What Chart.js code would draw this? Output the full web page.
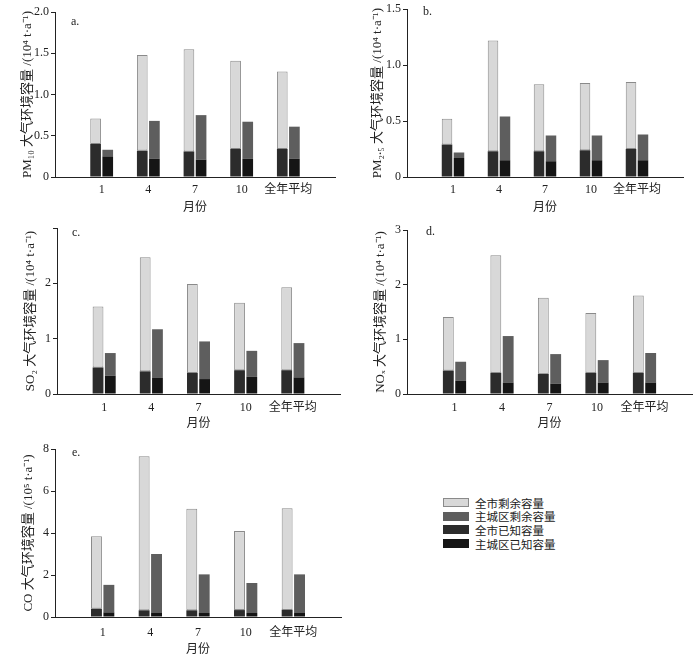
<!DOCTYPE html>
<html>
<head>
<meta charset="utf-8">
<script src="https://cdn.jsdelivr.net/npm/chart.js@4.4.0/dist/chart.umd.min.js"></script>
<style>
    body { margin: 0; background: #fff; }
    #wrap { position: relative; width: 700px; height: 657px; }
    .panel { position: absolute; }
    #legend { position: absolute; left: 443px; top: 496px; font: 11.5px 'Noto Sans CJK SC', sans-serif; color: #222; }
    #legend .row { display: flex; align-items: center; height: 13.6px; }
    #legend .box { width: 26px; height: 9px; margin-right: 6px; box-sizing: border-box; }
</style>
</head>
<body>
<div id="wrap">
    <div class="panel" id="pa"><canvas id="chartA"></canvas></div>
    <div class="panel" id="pb"><canvas id="chartB"></canvas></div>
    <div class="panel" id="pc"><canvas id="chartC"></canvas></div>
    <div class="panel" id="pd"><canvas id="chartD"></canvas></div>
    <div class="panel" id="pe"><canvas id="chartE"></canvas></div>
    <div id="legend"></div>
</div>
<script>
// Nhãn trục x (5 nhóm)
const months = ['1', '4', '7', '10', '全年平均'];

// Tên và màu các chuỗi
const seriesNames = ['全市剩余容量', '主城区剩余容量', '全市已知容量', '主城区已知容量'];
const seriesColors = ['#d8d8d8', '#5e5e5e', '#2c2c2c', '#151515'];

// a. PM10
const pm10CityKnown = [0.40, 0.32, 0.31, 0.34, 0.34];
const pm10CityRest  = [0.31, 1.16, 1.24, 1.07, 0.94];
const pm10MainKnown = [0.25, 0.22, 0.21, 0.22, 0.22];
const pm10MainRest  = [0.08, 0.46, 0.54, 0.45, 0.39];
const pm10Ticks = [0, 0.5, 1.0, 1.5, 2.0];
const pm10TickLabels = ['0', '0.5', '1.0', '1.5', '2.0'];

// b. PM2.5
const pm25CityKnown = [0.29, 0.23, 0.23, 0.24, 0.25];
const pm25CityRest  = [0.23, 0.99, 0.60, 0.60, 0.60];
const pm25MainKnown = [0.17, 0.15, 0.14, 0.15, 0.15];
const pm25MainRest  = [0.05, 0.39, 0.23, 0.22, 0.23];
const pm25Ticks = [0, 0.5, 1.0, 1.5];
const pm25TickLabels = ['0', '0.5', '1.0', '1.5'];

// c. SO2
const so2CityKnown = [0.48, 0.41, 0.38, 0.43, 0.43];
const so2CityRest  = [1.10, 2.06, 1.61, 1.22, 1.50];
const so2MainKnown = [0.33, 0.29, 0.27, 0.31, 0.30];
const so2MainRest  = [0.41, 0.88, 0.68, 0.47, 0.62];
const so2Ticks = [0, 1, 2, 3];
const so2TickLabels = ['0', '1', '2', ''];

// d. NOx
const noxCityKnown = [0.43, 0.39, 0.37, 0.39, 0.39];
const noxCityRest  = [0.98, 2.15, 1.39, 1.09, 1.41];
const noxMainKnown = [0.24, 0.21, 0.19, 0.21, 0.21];
const noxMainRest  = [0.35, 0.85, 0.54, 0.41, 0.54];
const noxTicks = [0, 1, 2, 3];
const noxTickLabels = ['0', '1', '2', '3'];

// e. CO
const coCityKnown = [0.40, 0.32, 0.32, 0.33, 0.35];
const coCityRest  = [3.45, 7.33, 4.83, 3.76, 4.83];
const coMainKnown = [0.22, 0.19, 0.19, 0.19, 0.19];
const coMainRest  = [1.31, 2.81, 1.84, 1.43, 1.84];
const coTicks = [0, 2, 4, 6, 8];
const coTickLabels = ['0', '2', '4', '6', '8'];

const serif = "'Liberation Serif', 'Noto Sans CJK SC', serif";

// Vẽ chữ a. b. c. trong vùng biểu đồ
const letterPlugin = {
    id: 'panelLetter',
    afterDraw(chart, args, opts) {
        const ctx = chart.ctx;
        const area = chart.chartArea;
        ctx.save();
        ctx.font = '12px ' + serif;
        ctx.fillStyle = '#222';
        ctx.textBaseline = 'middle';
        ctx.fillText(opts.text, area.left + opts.dx, area.top + opts.dy);
        ctx.restore();
    }
};

// Thêm ô trống ở hai đầu trục x
function pad(arr) {
    return [null].concat(arr, [null]);
}

function initPanel(canvasId, boxId, geo, letter, title, cityKnown, cityRest, mainKnown, mainRest, ticks, tickLabels) {
    const box = document.getElementById(boxId);
    box.style.left = geo.left + 'px';
    box.style.top = geo.top + 'px';
    box.style.width = geo.w + 'px';
    box.style.height = geo.h + 'px';

    const common = { categoryPercentage: 0.52, barPercentage: 0.88, borderWidth: 0 };

    new Chart(document.getElementById(canvasId), {
        type: 'bar',
        data: {
            labels: [''].concat(months, ['']),
            datasets: [
                { ...common, label: seriesNames[2], data: pad(cityKnown), stack: 'city', backgroundColor: seriesColors[2] },
                { ...common, label: seriesNames[0], data: pad(cityRest), stack: 'city', backgroundColor: seriesColors[0],
                  borderColor: '#8a8a8a', borderWidth: 1, borderSkipped: false },
                { ...common, label: seriesNames[3], data: pad(mainKnown), stack: 'main', backgroundColor: seriesColors[3] },
                { ...common, label: seriesNames[1], data: pad(mainRest), stack: 'main', backgroundColor: seriesColors[1] }
            ]
        },
        options: {
            responsive: true,
            maintainAspectRatio: false,
            animation: false,
            layout: { padding: { top: geo.padTop, right: geo.padRight, left: 0, bottom: 0 } },
            plugins: {
                legend: { display: false },
                tooltip: { enabled: false },
                panelLetter: { text: letter, dx: geo.letterDx, dy: geo.letterDy }
            },
            scales: {
                x: {
                    stacked: true,
                    offset: false,
                    grid: { display: false, drawTicks: false },
                    border: { display: true, color: '#222', width: 1 },
                    ticks: { autoSkip: false, maxRotation: 0, padding: geo.tickPad, color: '#222', font: { family: serif, size: 12 } },
                    title: { display: true, text: '月份', color: '#222', padding: { top: 0, bottom: geo.titlePad },
                             font: { family: "'Noto Sans CJK SC', sans-serif", size: 12 } },
                    afterFit: s => { s.height = geo.xHeight; }
                },
                y: {
                    stacked: true,
                    min: ticks[0],
                    max: ticks[ticks.length - 1],
                    grid: { display: true, drawOnChartArea: false, drawTicks: true, tickLength: 4, color: '#222' },
                    border: { display: true, color: '#222', width: 1 },
                    afterBuildTicks: s => { s.ticks = ticks.map(v => ({ value: v })); },
                    ticks: {
                        padding: 2,
                        color: '#222',
                        font: { family: serif, size: 12 },
                        callback: (v, i) => tickLabels[i]
                    },
                    title: { display: true, text: title, color: '#222', padding: { top: geo.yTitlePad, bottom: 0 },
                             font: { family: serif, size: 13 } },
                    afterFit: s => { s.width = geo.yWidth; }
                }
            }
        },
        plugins: [letterPlugin]
    });
}

// Chú giải HTML dựng từ tên và màu chuỗi
function initLegend() {
    const el = document.getElementById('legend');
    seriesNames.forEach((name, i) => {
        const row = document.createElement('div');
        row.className = 'row';
        const sw = document.createElement('span');
        sw.className = 'box';
        sw.style.background = seriesColors[i];
        if (i === 0) sw.style.border = '1px solid #8a8a8a';
        row.appendChild(sw);
        row.appendChild(document.createTextNode(name));
        el.appendChild(row);
    });
}

document.addEventListener('DOMContentLoaded', function() {
    initPanel('chartA', 'pa',
        { left: 0, top: 0, w: 350, h: 215, padTop: 12, padRight: 15, yWidth: 55, xHeight: 38, tickPad: 6, titlePad: 1, yTitlePad: 20, letterDx: 16, letterDy: 10 },
        'a.', 'PM₁₀ 大气环境容量 /(10⁴ t·a⁻¹)',
        pm10CityKnown, pm10CityRest, pm10MainKnown, pm10MainRest, pm10Ticks, pm10TickLabels);
    initPanel('chartB', 'pb',
        { left: 350, top: 0, w: 350, h: 215, padTop: 9, padRight: 17, yWidth: 57, xHeight: 38, tickPad: 6, titlePad: 1, yTitlePad: 20, letterDx: 16, letterDy: 3 },
        'b.', 'PM₂.₅ 大气环境容量 /(10⁴ t·a⁻¹)',
        pm25CityKnown, pm25CityRest, pm25MainKnown, pm25MainRest, pm25Ticks, pm25TickLabels);
    initPanel('chartC', 'pc',
        { left: 0, top: 215, w: 350, h: 215, padTop: 13, padRight: 10, yWidth: 57, xHeight: 36, tickPad: 7, titlePad: 0, yTitlePad: 23, letterDx: 15, letterDy: 5 },
        'c.', 'SO₂ 大气环境容量 /(10⁴ t·a⁻¹)',
        so2CityKnown, so2CityRest, so2MainKnown, so2MainRest, so2Ticks, so2TickLabels);
    initPanel('chartD', 'pd',
        { left: 350, top: 215, w: 350, h: 215, padTop: 15, padRight: 8, yWidth: 57, xHeight: 36, tickPad: 7, titlePad: 0, yTitlePad: 23, letterDx: 19, letterDy: 2 },
        'd.', 'NOₓ 大气环境容量 /(10⁴ t·a⁻¹)',
        noxCityKnown, noxCityRest, noxMainKnown, noxMainRest, noxTicks, noxTickLabels);
    initPanel('chartE', 'pe',
        { left: 0, top: 430, w: 350, h: 227, padTop: 19, padRight: 3, yWidth: 55, xHeight: 40, tickPad: 9, titlePad: 1, yTitlePad: 21, letterDx: 17, letterDy: 4 },
        'e.', 'CO 大气环境容量 /(10⁵ t·a⁻¹)',
        coCityKnown, coCityRest, coMainKnown, coMainRest, coTicks, coTickLabels);
    initLegend();
});
</script>
</body>
</html>
